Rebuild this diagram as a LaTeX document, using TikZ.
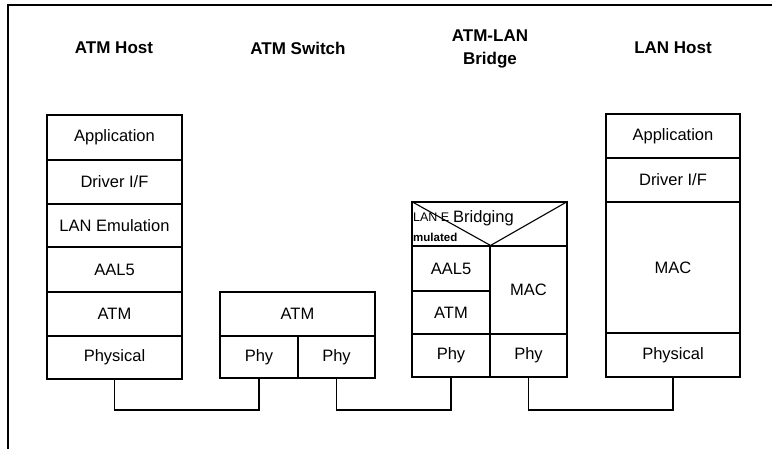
\documentclass[tikz,border=0pt]{standalone}
\usepackage{fontspec}
\setmainfont{Liberation Sans}
\begin{document}
\begin{tikzpicture}[x=1pt,y=-1pt,
  layer/.style={draw, line width=1.1pt, rectangle, inner sep=0pt, font=\fontsize{16.5}{18}\selectfont},
  title/.style={font=\bfseries\fontsize{17}{23}\selectfont, align=center},
  wire/.style={draw, line width=1.1pt},
  small/.style={inner sep=0pt, anchor=base west}]
\useasboundingbox (0,0) rectangle (772,449);
% frame
\draw[wire] (8,449) -- (8,5) -- (772,5);
% titles
\node[title] (t1) at (114,48) {ATM Host};
\node[title] (t2) at (298,48) {ATM Switch};
\node[title] (t3) at (490,49) {ATM-LAN\\Bridge};
\node[title] (t4) at (673,48) {LAN Host};
% ATM host
\node[layer, minimum width=135pt, minimum height=45pt] (hApp) at (114.5,137.5) {Application};
\node[layer, minimum width=135pt, minimum height=44pt] (hDrv) at (114.5,182) {Driver I/F};
\node[layer, minimum width=135pt, minimum height=43pt] (hLE) at (114.5,225.5) {LAN Emulation};
\node[layer, minimum width=135pt, minimum height=45pt] (hAAL) at (114.5,269.5) {AAL5};
\node[layer, minimum width=135pt, minimum height=44pt] (hATM) at (114.5,314) {ATM};
\node[layer, minimum width=135pt, minimum height=43pt] (hPhy) at (114.5,357.5) {Physical};
% ATM switch
\node[layer, minimum width=155pt, minimum height=44pt] (sATM) at (297.5,314) {ATM};
\node[layer, minimum width=78pt, minimum height=42pt] (sPhyA) at (259,357) {Phy};
\node[layer, minimum width=77pt, minimum height=42pt] (sPhyB) at (336.5,357) {Phy};
% bridge
\node[layer, minimum width=155pt, minimum height=44pt] (bTop) at (489.5,224) {};
\node[layer, minimum width=78pt, minimum height=45pt] (bAAL) at (451,268.5) {AAL5};
\node[layer, minimum width=78pt, minimum height=43pt] (bATM) at (451,312.5) {ATM};
\node[layer, minimum width=77pt, minimum height=88pt] (bMAC) at (528.5,290) {MAC};
\node[layer, minimum width=78pt, minimum height=43pt] (bPhyA) at (451,355.5) {Phy};
\node[layer, minimum width=77pt, minimum height=43pt] (bPhyB) at (528.5,355.5) {Phy};
\draw[wire] (bTop.north west) -- (bAAL.north east) -- (bTop.north east);
\node[small, font=\fontsize{12.5}{13}\selectfont] (bLE) at (413,222) {LAN E};
\node[small, font=\fontsize{16.5}{18}\selectfont] (bBr) at (453,222.5) {Bridging};
\node[small, font=\bfseries\fontsize{11.5}{12}\selectfont] (bMu) at (413,242) {mulated};
% LAN host
\node[layer, minimum width=134pt, minimum height=44pt] (lApp) at (673,136) {Application};
\node[layer, minimum width=134pt, minimum height=44pt] (lDrv) at (673,180) {Driver I/F};
\node[layer, minimum width=134pt, minimum height=131pt] (lMAC) at (673,267.5) {MAC};
\node[layer, minimum width=134pt, minimum height=44pt] (lPhy) at (673,355) {Physical};
% links
\coordinate (lv) at (0,410);
\draw[wire] (hPhy.south) -- (hPhy.south |- lv) -| (sPhyA.south);
\draw[wire] (sPhyB.south) -- (sPhyB.south |- lv) -| (bPhyA.south);
\draw[wire] (bPhyB.south) -- (bPhyB.south |- lv) -| (lPhy.south);
\end{tikzpicture}
\end{document}
